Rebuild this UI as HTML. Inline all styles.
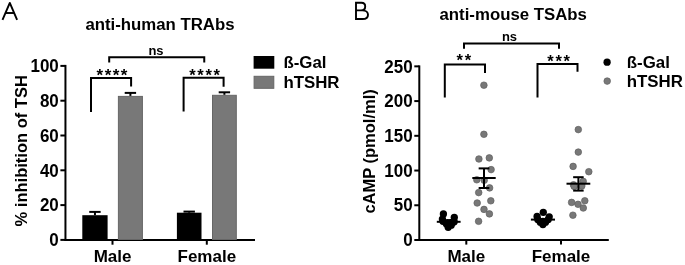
<!DOCTYPE html>
<html><head><meta charset="utf-8"><style>
html,body{margin:0;padding:0;background:#fff;}
body{width:685px;height:265px;overflow:hidden;}
svg{display:block;font-family:'Liberation Sans',sans-serif;will-change:transform;filter:blur(0.3px);}
svg text{font-family:'Liberation Sans',sans-serif;fill:#000;}
</style></head><body>
<svg width="685" height="265" viewBox="0 0 685 265">
<path d="M2.5,19.9 L9.8,2.9 L17.1,19.9" fill="none" stroke="#000" stroke-width="1.9" stroke-linejoin="round" stroke-linecap="butt"/>
<path d="M5.6,13 H14.1" fill="none" stroke="#000" stroke-width="1.9" stroke-linejoin="miter" stroke-linecap="butt"/>
<path d="M356,1.9 V19.1 M355.05,2.8 H361.5 C364,2.8 365.2,4.6 365.2,6.5 C365.2,8.8 363.5,10.4 361,10.4 H356 M361,10.4 H362.3 C366.2,10.4 368,12.6 368,14.7 C368,17.3 366,19 362.5,19 H355.05" fill="none" stroke="#000" stroke-width="1.9" stroke-linejoin="miter" stroke-linecap="butt"/>
<text x="160" y="29.5" font-size="16.8" font-weight="bold" text-anchor="middle" >anti-human TRAbs</text>
<text transform="translate(27.3,150.8) rotate(-90)" x="0" y="0" font-size="16.5" font-weight="bold" text-anchor="middle">% inhibition of TSH</text>
<line x1="65.45" y1="64.9" x2="65.45" y2="241" stroke="#000" stroke-width="2"/>
<line x1="64.5" y1="240.1" x2="255" y2="240.1" stroke="#000" stroke-width="2"/>
<line x1="60.4" y1="239.9" x2="65.45" y2="239.9" stroke="#000" stroke-width="2"/>
<text transform="translate(58.8,246.1) scale(1,1.055)" x="0" y="0" font-size="17" font-weight="bold" text-anchor="end" >0</text>
<line x1="60.4" y1="205.10000000000002" x2="65.45" y2="205.10000000000002" stroke="#000" stroke-width="2"/>
<text transform="translate(58.8,211.3) scale(1,1.055)" x="0" y="0" font-size="17" font-weight="bold" text-anchor="end" >20</text>
<line x1="60.4" y1="170.3" x2="65.45" y2="170.3" stroke="#000" stroke-width="2"/>
<text transform="translate(58.8,176.5) scale(1,1.055)" x="0" y="0" font-size="17" font-weight="bold" text-anchor="end" >40</text>
<line x1="60.4" y1="135.5" x2="65.45" y2="135.5" stroke="#000" stroke-width="2"/>
<text transform="translate(58.8,141.7) scale(1,1.055)" x="0" y="0" font-size="17" font-weight="bold" text-anchor="end" >60</text>
<line x1="60.4" y1="100.70000000000002" x2="65.45" y2="100.70000000000002" stroke="#000" stroke-width="2"/>
<text transform="translate(58.8,106.90000000000002) scale(1,1.055)" x="0" y="0" font-size="17" font-weight="bold" text-anchor="end" >80</text>
<line x1="60.4" y1="65.9" x2="65.45" y2="65.9" stroke="#000" stroke-width="2"/>
<text transform="translate(58.8,72.10000000000001) scale(1,1.055)" x="0" y="0" font-size="17" font-weight="bold" text-anchor="end" >100</text>
<line x1="112.5" y1="240" x2="112.5" y2="244.7" stroke="#000" stroke-width="2"/>
<line x1="206.8" y1="240" x2="206.8" y2="244.7" stroke="#000" stroke-width="2"/>
<text x="112.6" y="262" font-size="17" font-weight="bold" text-anchor="middle" >Male</text>
<text x="206.8" y="262" font-size="17" font-weight="bold" text-anchor="middle" >Female</text>
<rect x="82.3" y="215.2" width="25.3" height="24.8" fill="#000"/>
<rect x="118.4" y="96.4" width="24.0" height="143.1" fill="#787878" stroke="#666" stroke-width="1"/>
<rect x="176.9" y="212.7" width="24.6" height="27.3" fill="#000"/>
<rect x="212.5" y="95.3" width="23.8" height="144.2" fill="#787878" stroke="#666" stroke-width="1"/>
<line x1="94.95" y1="211.9" x2="94.95" y2="215.2" stroke="#000" stroke-width="2"/>
<line x1="89.25" y1="211.9" x2="100.65" y2="211.9" stroke="#000" stroke-width="2"/>
<line x1="130.4" y1="92.9" x2="130.4" y2="95.9" stroke="#000" stroke-width="2"/>
<line x1="124.7" y1="92.9" x2="136.1" y2="92.9" stroke="#000" stroke-width="2"/>
<line x1="189.2" y1="211.6" x2="189.2" y2="212.7" stroke="#000" stroke-width="2"/>
<line x1="183.5" y1="211.6" x2="194.89999999999998" y2="211.6" stroke="#000" stroke-width="2"/>
<line x1="224.4" y1="92.3" x2="224.4" y2="94.8" stroke="#000" stroke-width="2"/>
<line x1="218.70000000000002" y1="92.3" x2="230.1" y2="92.3" stroke="#000" stroke-width="2"/>
<path d="M91,112 V78 H131.1 V86.5" fill="none" stroke="#000" stroke-width="2" stroke-linejoin="miter" stroke-linecap="butt"/>
<path d="M183.6,111.6 V77.8 H223.6 V86.7" fill="none" stroke="#000" stroke-width="2" stroke-linejoin="miter" stroke-linecap="butt"/>
<path d="M109.2,62.6 V57.2 H204.25 V62.6" fill="none" stroke="#000" stroke-width="2" stroke-linejoin="miter" stroke-linecap="butt"/>
<text x="96.6" y="80.6" font-size="17" font-weight="bold" text-anchor="start" letter-spacing="1.44">****</text>
<text x="189.3" y="80.6" font-size="16.5" font-weight="bold" text-anchor="start" letter-spacing="1.63">****</text>
<text transform="translate(156,55) scale(1,0.92)" x="0" y="0" font-size="13" font-weight="bold" text-anchor="middle" >ns</text>
<rect x="253.6" y="56" width="20.7" height="12.7" fill="#000"/>
<rect x="254.1" y="76.3" width="19.7" height="12" fill="#787878" stroke="#666" stroke-width="1"/>
<text x="283.4" y="68.1" font-size="16.85" font-weight="bold" text-anchor="start" >ß-Gal</text>
<text x="283.4" y="87.8" font-size="16.85" font-weight="bold" text-anchor="start" >hTSHR</text>
<text x="513.2" y="20" font-size="16.8" font-weight="bold" text-anchor="middle" >anti-mouse TSAbs</text>
<text transform="translate(375.2,151.4) rotate(-90)" x="0" y="0" font-size="16.5" font-weight="bold" text-anchor="middle">cAMP (pmol/ml)</text>
<line x1="419.3" y1="65.4" x2="419.3" y2="241" stroke="#000" stroke-width="2"/>
<line x1="418.5" y1="240.1" x2="608.8" y2="240.1" stroke="#000" stroke-width="2"/>
<line x1="414.3" y1="240.0" x2="419.3" y2="240.0" stroke="#000" stroke-width="2"/>
<text transform="translate(412.6,246.2) scale(1,1.055)" x="0" y="0" font-size="17" font-weight="bold" text-anchor="end" >0</text>
<line x1="414.3" y1="205.27" x2="419.3" y2="205.27" stroke="#000" stroke-width="2"/>
<text transform="translate(412.6,211.47) scale(1,1.055)" x="0" y="0" font-size="17" font-weight="bold" text-anchor="end" >50</text>
<line x1="414.3" y1="170.54000000000002" x2="419.3" y2="170.54000000000002" stroke="#000" stroke-width="2"/>
<text transform="translate(412.6,176.74) scale(1,1.055)" x="0" y="0" font-size="17" font-weight="bold" text-anchor="end" >100</text>
<line x1="414.3" y1="135.81" x2="419.3" y2="135.81" stroke="#000" stroke-width="2"/>
<text transform="translate(412.6,142.01) scale(1,1.055)" x="0" y="0" font-size="17" font-weight="bold" text-anchor="end" >150</text>
<line x1="414.3" y1="101.08000000000001" x2="419.3" y2="101.08000000000001" stroke="#000" stroke-width="2"/>
<text transform="translate(412.6,107.28000000000002) scale(1,1.055)" x="0" y="0" font-size="17" font-weight="bold" text-anchor="end" >200</text>
<line x1="414.3" y1="66.35" x2="419.3" y2="66.35" stroke="#000" stroke-width="2"/>
<text transform="translate(412.6,72.55) scale(1,1.055)" x="0" y="0" font-size="17" font-weight="bold" text-anchor="end" >250</text>
<line x1="466.3" y1="240" x2="466.3" y2="244.6" stroke="#000" stroke-width="2"/>
<line x1="561" y1="240" x2="561" y2="244.6" stroke="#000" stroke-width="2"/>
<text x="466.3" y="262" font-size="17" font-weight="bold" text-anchor="middle" >Male</text>
<text x="561" y="262" font-size="17" font-weight="bold" text-anchor="middle" >Female</text>
<path d="M444.8,97.5 V64.5 H485 V72.9" fill="none" stroke="#000" stroke-width="2" stroke-linejoin="miter" stroke-linecap="butt"/>
<path d="M537.5,97.5 V64.1 H577.5 V71.8" fill="none" stroke="#000" stroke-width="2" stroke-linejoin="miter" stroke-linecap="butt"/>
<path d="M464,48.8 V43.5 H559 V48.8" fill="none" stroke="#000" stroke-width="2" stroke-linejoin="miter" stroke-linecap="butt"/>
<text x="456.45" y="65.8" font-size="16.5" font-weight="bold" text-anchor="start" letter-spacing="1.8">**</text>
<text x="547.25" y="66.7" font-size="16.5" font-weight="bold" text-anchor="start" letter-spacing="1.72">***</text>
<text transform="translate(509.5,40.8) scale(1,0.92)" x="0" y="0" font-size="13" font-weight="bold" text-anchor="middle" >ns</text>
<circle cx="483.9" cy="85.2" r="3.3" fill="#787878" stroke="#606060" stroke-width="0.7"/>
<circle cx="483.9" cy="134.3" r="3.3" fill="#787878" stroke="#606060" stroke-width="0.7"/>
<circle cx="478.9" cy="159" r="3.3" fill="#787878" stroke="#606060" stroke-width="0.7"/>
<circle cx="489.3" cy="157.9" r="3.3" fill="#787878" stroke="#606060" stroke-width="0.7"/>
<circle cx="491.1" cy="169.6" r="3.3" fill="#787878" stroke="#606060" stroke-width="0.7"/>
<circle cx="476.8" cy="179.8" r="3.3" fill="#787878" stroke="#606060" stroke-width="0.7"/>
<circle cx="484.2" cy="180.3" r="3.3" fill="#787878" stroke="#606060" stroke-width="0.7"/>
<circle cx="489.6" cy="187.9" r="3.3" fill="#787878" stroke="#606060" stroke-width="0.7"/>
<circle cx="478.7" cy="192.6" r="3.3" fill="#787878" stroke="#606060" stroke-width="0.7"/>
<circle cx="477.2" cy="203" r="3.3" fill="#787878" stroke="#606060" stroke-width="0.7"/>
<circle cx="490.8" cy="200.8" r="3.3" fill="#787878" stroke="#606060" stroke-width="0.7"/>
<circle cx="484" cy="209.4" r="3.3" fill="#787878" stroke="#606060" stroke-width="0.7"/>
<circle cx="489.4" cy="213.9" r="3.3" fill="#787878" stroke="#606060" stroke-width="0.7"/>
<circle cx="478.6" cy="221.3" r="3.3" fill="#787878" stroke="#606060" stroke-width="0.7"/>
<circle cx="578.3" cy="129.6" r="3.3" fill="#787878" stroke="#606060" stroke-width="0.7"/>
<circle cx="578.3" cy="152.1" r="3.3" fill="#787878" stroke="#606060" stroke-width="0.7"/>
<circle cx="573.1" cy="166.4" r="3.3" fill="#787878" stroke="#606060" stroke-width="0.7"/>
<circle cx="588.8" cy="171.7" r="3.3" fill="#787878" stroke="#606060" stroke-width="0.7"/>
<circle cx="573.5" cy="184.8" r="3.3" fill="#787878" stroke="#606060" stroke-width="0.7"/>
<circle cx="574.2" cy="186.4" r="3.3" fill="#787878" stroke="#606060" stroke-width="0.7"/>
<circle cx="583.2" cy="181.4" r="3.3" fill="#787878" stroke="#606060" stroke-width="0.7"/>
<circle cx="581.8" cy="186" r="3.3" fill="#787878" stroke="#606060" stroke-width="0.7"/>
<circle cx="571.6" cy="202.4" r="3.3" fill="#787878" stroke="#606060" stroke-width="0.7"/>
<circle cx="578" cy="204.3" r="3.3" fill="#787878" stroke="#606060" stroke-width="0.7"/>
<circle cx="584.8" cy="200.8" r="3.3" fill="#787878" stroke="#606060" stroke-width="0.7"/>
<circle cx="583.3" cy="208" r="3.3" fill="#787878" stroke="#606060" stroke-width="0.7"/>
<circle cx="572.9" cy="215.2" r="3.3" fill="#787878" stroke="#606060" stroke-width="0.7"/>
<circle cx="443.4" cy="213.9" r="3.65" fill="#000"/>
<circle cx="454.3" cy="217.4" r="3.65" fill="#000"/>
<circle cx="442.4" cy="219.1" r="3.65" fill="#000"/>
<circle cx="443" cy="221.3" r="3.65" fill="#000"/>
<circle cx="446.3" cy="223.8" r="3.65" fill="#000"/>
<circle cx="452.5" cy="222.5" r="3.65" fill="#000"/>
<circle cx="454.2" cy="221.8" r="3.65" fill="#000"/>
<circle cx="451.2" cy="225.2" r="3.65" fill="#000"/>
<circle cx="448.2" cy="227.3" r="3.65" fill="#000"/>
<circle cx="447.5" cy="222.7" r="3.65" fill="#000"/>
<circle cx="450.5" cy="222.7" r="3.65" fill="#000"/>
<circle cx="543.3" cy="212.3" r="3.65" fill="#000"/>
<circle cx="537.1" cy="216.4" r="3.65" fill="#000"/>
<circle cx="549.2" cy="216.8" r="3.65" fill="#000"/>
<circle cx="537.8" cy="219.6" r="3.65" fill="#000"/>
<circle cx="548.2" cy="219.6" r="3.65" fill="#000"/>
<circle cx="540.3" cy="222.2" r="3.65" fill="#000"/>
<circle cx="545.5" cy="222.2" r="3.65" fill="#000"/>
<circle cx="542.9" cy="224.6" r="3.65" fill="#000"/>
<circle cx="542.9" cy="221.3" r="3.65" fill="#000"/>
<line x1="472.3" y1="178" x2="495.7" y2="178" stroke="#000" stroke-width="2"/>
<line x1="484" y1="168.4" x2="484" y2="188" stroke="#000" stroke-width="2"/>
<line x1="478.65" y1="168.4" x2="489.35" y2="168.4" stroke="#000" stroke-width="2"/>
<line x1="478.65" y1="188" x2="489.35" y2="188" stroke="#000" stroke-width="2"/>
<line x1="566.5" y1="183.7" x2="590.3" y2="183.7" stroke="#000" stroke-width="2"/>
<line x1="578.4" y1="177.2" x2="578.4" y2="190.6" stroke="#000" stroke-width="2"/>
<line x1="573.15" y1="177.2" x2="583.65" y2="177.2" stroke="#000" stroke-width="2"/>
<line x1="573.15" y1="190.6" x2="583.65" y2="190.6" stroke="#000" stroke-width="2"/>
<line x1="436.8" y1="221.8" x2="460.6" y2="221.8" stroke="#000" stroke-width="2"/>
<line x1="530.9" y1="219.6" x2="555" y2="219.6" stroke="#000" stroke-width="2"/>
<circle cx="607.1" cy="62.2" r="3.65" fill="#000"/>
<circle cx="607.2" cy="81.1" r="3.3" fill="#787878" stroke="#606060" stroke-width="0.7"/>
<text x="626.8" y="68.2" font-size="16.85" font-weight="bold" text-anchor="start" >ß-Gal</text>
<text x="626.8" y="87.4" font-size="16.85" font-weight="bold" text-anchor="start" >hTSHR</text>
</svg>
</body></html>
